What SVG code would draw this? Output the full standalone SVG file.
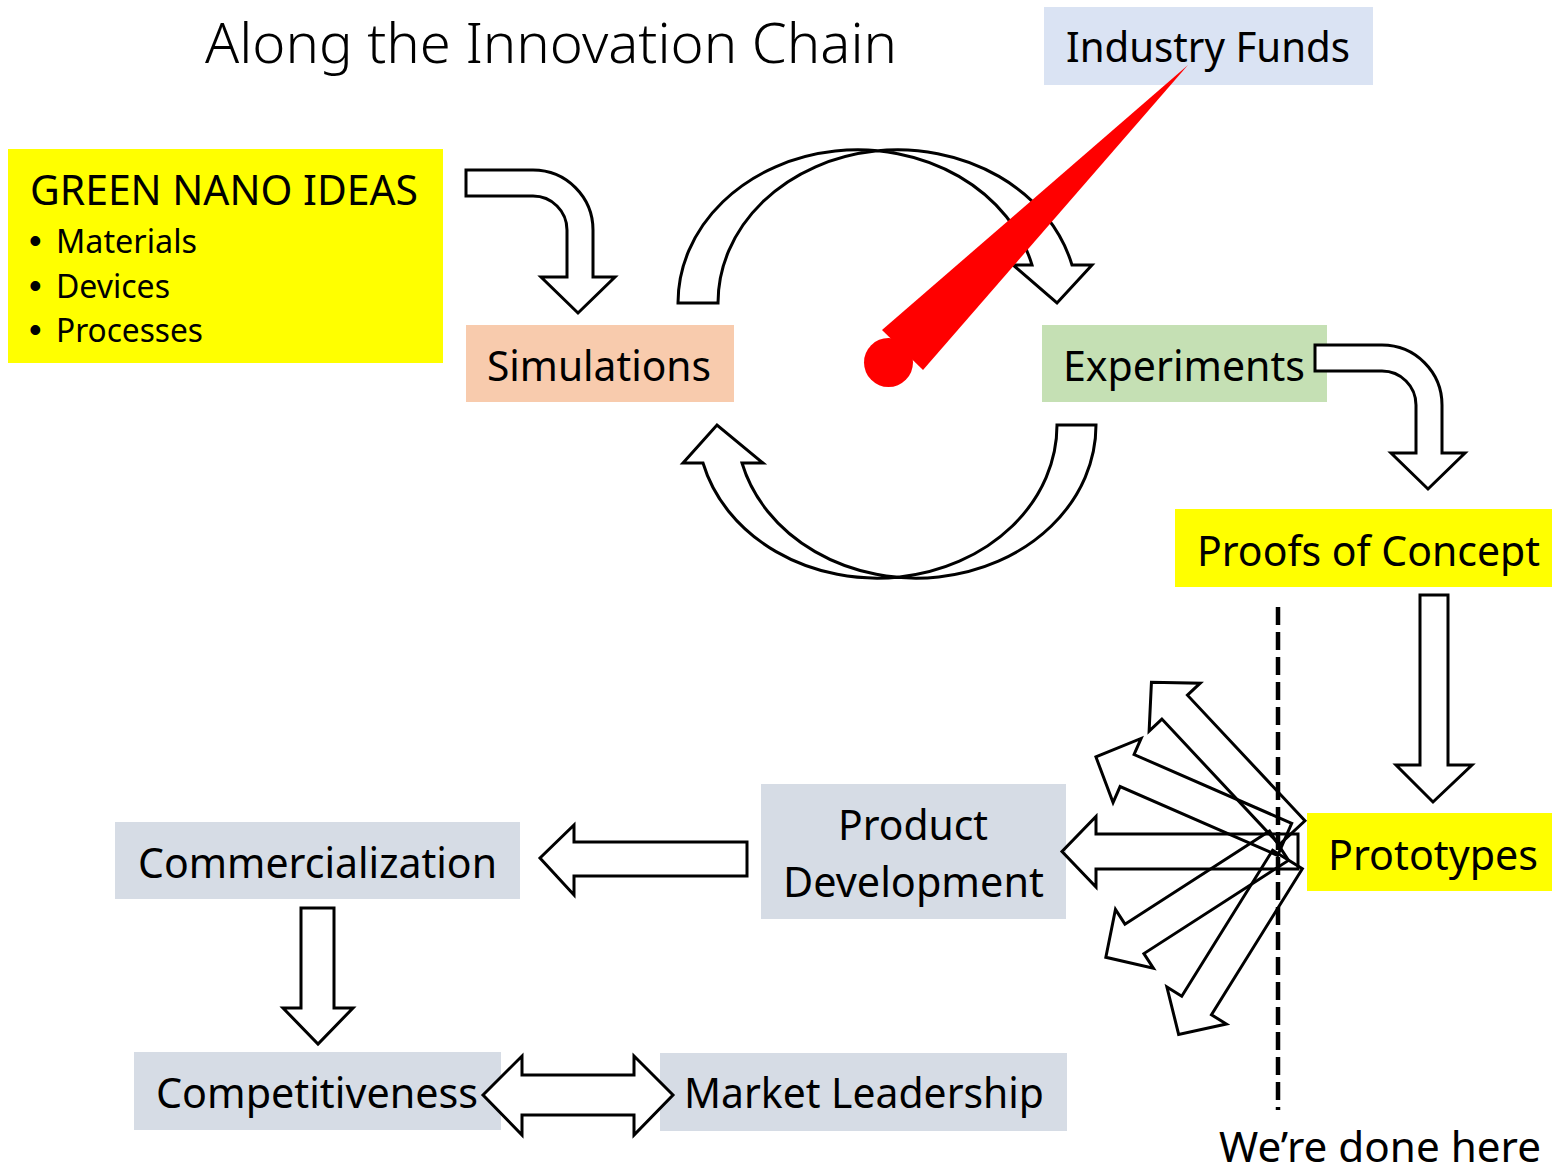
<svg xmlns="http://www.w3.org/2000/svg" xmlns:xlink="http://www.w3.org/1999/xlink" width="1552" height="1172" viewBox="0 0 1552 1172">
<style>
.t{font-family:"Noto Sans","Open Sans","Liberation Sans",sans-serif;font-size:41px;fill:#000}
.b{font-size:32px}
.bul{font-family:"Liberation Sans",sans-serif;font-size:36px;fill:#000}
.title{font-weight:300;font-size:56px}
.arr{fill:#fff;stroke:#000;stroke-width:3;stroke-linejoin:miter}
.fan{fill:none;stroke:#000;stroke-width:3;stroke-linejoin:miter}
.yel{fill:#FFFF00}
.gry{fill:#D6DCE5}
</style>
<defs>
<path id="fanArrow" d="M0,-17.5 L-172,-17.5 L-172,-35 L-206,0 L-172,35 L-172,17.5 L0,17.5 Z"/>
</defs>
<rect width="1552" height="1172" fill="#fff"/>

<g id="title"><text class="t title" x="205" y="63" textLength="692" lengthAdjust="spacingAndGlyphs">Along the Innovation Chain</text></g>

<g id="industry-funds"><rect x="1044" y="7" width="329" height="78" fill="#DAE3F3"/><text class="t" x="1066" y="62" textLength="284" lengthAdjust="spacingAndGlyphs">Industry Funds</text></g>

<g id="green-nano-ideas"><rect class="yel" x="8" y="149" width="435" height="214"/>
<text class="t" x="30" y="205" textLength="388" lengthAdjust="spacingAndGlyphs">GREEN NANO IDEAS</text>
<text class="bul" x="29" y="253">•</text><text class="t b" x="56" y="253" textLength="141" lengthAdjust="spacingAndGlyphs">Materials</text>
<text class="bul" x="29" y="298">•</text><text class="t b" x="56" y="298" textLength="114" lengthAdjust="spacingAndGlyphs">Devices</text>
<text class="bul" x="29" y="342">•</text><text class="t b" x="56" y="342" textLength="147" lengthAdjust="spacingAndGlyphs">Processes</text>
</g>

<g id="simulations"><rect x="466" y="325" width="268" height="77" fill="#F8CBAD"/><text class="t" x="487" y="381" textLength="224" lengthAdjust="spacingAndGlyphs">Simulations</text></g>

<g id="experiments"><rect x="1042" y="325" width="285" height="77" fill="#C5E0B4"/><text class="t" x="1063" y="381" textLength="242" lengthAdjust="spacingAndGlyphs">Experiments</text></g>

<g id="proofs-of-concept"><rect class="yel" x="1175" y="509" width="377" height="78"/><text class="t" x="1197" y="566" textLength="343" lengthAdjust="spacingAndGlyphs">Proofs of Concept</text></g>

<g id="prototypes"><rect class="yel" x="1307" y="813" width="245" height="78"/><text class="t" x="1328" y="870" textLength="210" lengthAdjust="spacingAndGlyphs">Prototypes</text></g>

<g id="product-development"><rect class="gry" x="761" y="784" width="305" height="135"/>
<text class="t" x="838" y="840" textLength="150" lengthAdjust="spacingAndGlyphs">Product</text>
<text class="t" x="783" y="897" textLength="261" lengthAdjust="spacingAndGlyphs">Development</text></g>

<g id="commercialization"><rect class="gry" x="115" y="822" width="405" height="77"/><text class="t" x="138" y="878" textLength="359" lengthAdjust="spacingAndGlyphs">Commercialization</text></g>

<g id="competitiveness"><rect class="gry" x="134" y="1052" width="367" height="78"/><text class="t" x="156" y="1108" textLength="322" lengthAdjust="spacingAndGlyphs">Competitiveness</text></g>

<g id="market-leadership"><rect class="gry" x="660" y="1053" width="407" height="78"/><text class="t" x="684" y="1108" textLength="360" lengthAdjust="spacingAndGlyphs">Market Leadership</text></g>

<g id="done-label"><text class="t" x="1219" y="1162" textLength="322" lengthAdjust="spacingAndGlyphs">We’re done here</text></g>

<g id="connectors">
<path class="arr" d="M466,170 L533,170 A60,60 0 0 1 593,230 L593,277 L615,277 L578,313 L541,277 L567,277 L567,230 A34,34 0 0 0 533,196 L466,196 Z"/>
<path class="arr" d="M1315,345 L1382,345 A60,60 0 0 1 1442,405 L1442,453 L1465,453 L1428,489 L1391,453 L1416,453 L1416,405 A34,34 0 0 0 1382,371 L1315,371 Z"/>
<path class="arr" d="M678,303 A179.8,153 0 0 1 1032,265 L1013,265 L1057,303 L1092,265 L1072,265 A179.8,153 0 0 0 718,303 Z"/>
<path class="arr" d="M1096,425 A179.8,153 0 0 1 742,463 L763,463 L717,425 L683,463 L703,463 A179.8,153 0 0 0 1057,425 Z"/>
<path class="arr" d="M1420,595 L1448,595 L1448,765 L1472,765 L1433,802 L1396,765 L1420,765 Z"/>
<path class="arr" d="M301,908 L334,908 L334,1008 L353,1008 L318,1044 L283,1008 L301,1008 Z"/>
<path class="arr" d="M747,842 L574,842 L574,825 L540,858 L574,895 L574,876 L747,876 Z"/>
<path class="arr" d="M483,1095 L522,1056 L522,1075 L634,1075 L634,1056 L673,1095 L634,1135 L634,1115 L522,1115 L522,1135 Z"/>
<line x1="1278" y1="607" x2="1278" y2="1110" stroke="#000" stroke-width="4.5" stroke-dasharray="18 7"/>
<path class="fan" d="M1298,834 L1096,834 L1096,816.5 L1062,851.5 L1096,887 L1096,869 L1298,869 Z"/>
<use xlink:href="#fanArrow" class="fan" transform="translate(1292.2,832.7) rotate(46.9)"/>
<use xlink:href="#fanArrow" class="fan" transform="translate(1284.7,839.4) rotate(23.6)"/>
<use xlink:href="#fanArrow" class="fan" transform="translate(1279,845.7) rotate(-32.8)"/>
<use xlink:href="#fanArrow" class="fan" transform="translate(1287.5,859.5) rotate(-58.1)"/>
</g>

<g id="funding-needle" fill="#FF0000">
<polygon points="882,330 1188,65 923,370"/>
<circle cx="888.5" cy="362.5" r="24.5"/>
</g>
</svg>
